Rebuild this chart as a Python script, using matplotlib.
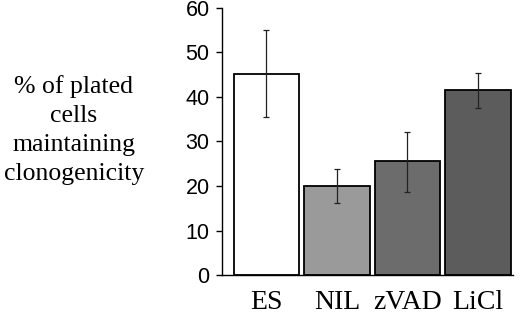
import matplotlib
matplotlib.use("Agg")
import matplotlib.pyplot as plt

categories = ["ES", "NIL", "zVAD", "LiCl"]
values = [45.2, 20.0, 25.5, 41.5]
err_low = [35.5, 16.2, 18.7, 37.5]
err_high = [55.0, 23.8, 32.2, 45.3]
colors = ["#ffffff", "#9a9a9a", "#6c6c6c", "#5c5c5c"]
yticks = [0, 10, 20, 30, 40, 50, 60]

fig = plt.figure(figsize=(5.2, 3.14), dpi=100)
ax = fig.add_axes([0.427, 0.124, 0.56, 0.851])

x = list(range(len(categories)))
yerr = [[v - lo for v, lo in zip(values, err_low)], [hi - v for v, hi in zip(values, err_high)]]
ax.bar(x, values, width=0.93, color=colors, edgecolor="black", linewidth=1.3, zorder=2)
ax.errorbar(x, values, yerr=yerr, fmt="none", ecolor="#222222", elinewidth=0.9, capsize=2, capthick=0.9, zorder=3)

ax.set_xlim(-0.63, 3.5)
ax.set_ylim(0, 60)
ax.set_yticks(yticks)
ax.set_yticklabels([str(t) for t in yticks], family="Liberation Sans", fontsize=15.5)
ax.set_xticks(x)
ax.set_xticklabels(categories, family="Liberation Serif", fontsize=20)
ax.tick_params(axis="x", length=0, pad=11)
ax.tick_params(axis="y", length=4, width=1, direction="out", pad=5)
for s in ["top", "right"]:
    ax.spines[s].set_visible(False)
ax.spines["left"].set_linewidth(1)
ax.spines["bottom"].set_linewidth(1)

fig.text(74 / 520, 1 - 130 / 314, "% of plated\ncells\nmaintaining\nclonogenicity",
         family="Liberation Serif", fontsize=18.5, ha="center", va="center", linespacing=1.4)

fig.savefig("out.png", dpi=100)
